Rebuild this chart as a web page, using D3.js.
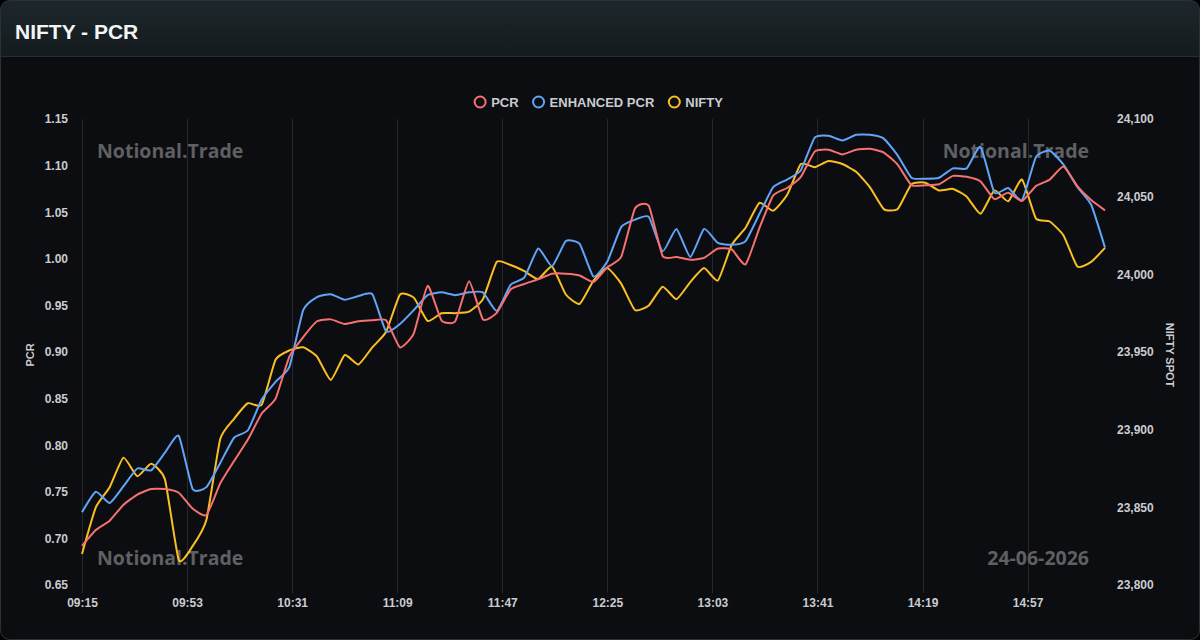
<!DOCTYPE html>
<html><head><meta charset="utf-8">
<script src="https://cdn.jsdelivr.net/npm/d3@7"></script>
<style>
html,body{margin:0;padding:0;background:#000;}
body{width:1200px;height:640px;overflow:hidden;font-family:"Liberation Sans",Arial,sans-serif;}
</style></head>
<body>
<svg id="c" width="1200" height="640"></svg>
<script>
const startTime = "09:15";
const stepMinutes = 5;
const xTickLabels = ["09:15","09:53","10:31","11:09","11:47","12:25","13:03","13:41","14:19","14:57"];
const pcrTicks = [0.65,0.70,0.75,0.80,0.85,0.90,0.95,1.00,1.05,1.10,1.15];
const niftyTicks = [23800,23850,23900,23950,24000,24050,24100];

const pcr = [0.692,0.709,0.719,0.736,0.747,0.753,0.753,0.749,0.732,0.725,
0.759,0.783,0.806,0.834,0.850,0.895,0.916,0.933,0.935,0.930,
0.933,0.934,0.934,0.905,0.920,0.971,0.934,0.933,0.976,0.935,
0.942,0.967,0.973,0.978,0.984,0.984,0.982,0.975,0.991,1.002,
1.054,1.057,1.003,1.002,0.999,1.001,1.011,1.010,0.994,1.033,
1.068,1.076,1.088,1.115,1.117,1.112,1.117,1.118,1.114,1.101,
1.079,1.079,1.080,1.089,1.088,1.083,1.064,1.071,1.062,1.078,
1.085,1.099,1.078,1.063,1.052];

const enhancedPcr = [0.728,0.750,0.738,0.756,0.775,0.773,0.792,0.810,0.753,0.755,
0.781,0.808,0.816,0.849,0.868,0.884,0.945,0.959,0.962,0.956,
0.960,0.962,0.922,0.930,0.945,0.961,0.964,0.961,0.964,0.964,
0.944,0.972,0.980,1.011,0.992,1.019,1.016,0.981,0.997,1.034,
1.042,1.045,1.008,1.032,1.002,1.032,1.017,1.015,1.019,1.048,
1.077,1.085,1.095,1.130,1.132,1.127,1.133,1.133,1.129,1.111,
1.087,1.086,1.087,1.097,1.097,1.120,1.071,1.076,1.063,1.109,
1.116,1.101,1.077,1.058,1.012];

const nifty = [23820,23850,23863,23882,23870,23878,23868,23816,23825,23842,
23894,23907,23917,23916,23945,23951,23953,23947,23932,23948,
23942,23953,23963,23987,23985,23970,23975,23975,23976,23984,
24008,24006,24002,23997,24005,23987,23981,23996,24004,23994,
23977,23980,23992,23984,23995,24004,23996,24019,24030,24046,
24041,24051,24071,24069,24073,24071,24066,24056,24042,24042,
24058,24059,24054,24055,24050,24039,24054,24047,24061,24036,
24034,24025,24005,24008,24017];

const seriesNames = ["PCR","ENHANCED PCR","NIFTY"];
const seriesColors = ["#f87171","#60a5fa","#fbbf24"];

(function(){
function toMin(s){const [h,m]=s.split(":").map(Number);return h*60+m;}
const t0 = toMin(startTime);
const times = pcr.map((_,i)=>t0+i*stepMinutes);
const axFont = "'Liberation Sans', Arial, sans-serif";
const txtCol = "#c9ccd0";

const svg = d3.select("#c");
const defs = svg.append("defs");
const g1 = defs.append("linearGradient").attr("id","hdr").attr("x1",0).attr("y1",0).attr("x2",0).attr("y2",1);
g1.append("stop").attr("offset","0%").attr("stop-color","#1d272b");
g1.append("stop").attr("offset","100%").attr("stop-color","#141b1e");
const clip = defs.append("clipPath").attr("id","card");
clip.append("rect").attr("x",0.5).attr("y",0.5).attr("width",1199).attr("height",639).attr("rx",9);

const card = svg.append("g").attr("clip-path","url(#card)");
card.append("rect").attr("width",1200).attr("height",640).attr("fill","#0c0d10");
card.append("rect").attr("width",1200).attr("height",56).attr("fill","url(#hdr)");
card.append("line").attr("x1",0).attr("x2",1200).attr("y1",56.5).attr("y2",56.5).attr("stroke","#262e31");
svg.append("rect").attr("x",0.5).attr("y",0.5).attr("width",1199).attr("height",639).attr("rx",9)
  .attr("fill","none").attr("stroke","#2b3235");

svg.append("text").attr("x",15).attr("y",39).attr("fill","#f2f4f5")
  .attr("font-family",axFont).attr("font-weight",700).attr("font-size",21)
  .text("NIFTY - PCR");

const pL=82, pR=1105, pT=119, pB=585;
const x = d3.scaleLinear().domain([t0, times[times.length-1]]).range([pL,pR]);
const yL = d3.scaleLinear().domain([0.65,1.15]).range([pB,pT]);
const yR = d3.scaleLinear().domain([23800,24100]).range([pB,pT]);

const tickVals = xTickLabels.map(toMin);
svg.append("g").selectAll("line").data(tickVals).join("line")
  .attr("x1",d=>Math.round(x(d))+0.5).attr("x2",d=>Math.round(x(d))+0.5)
  .attr("y1",pT).attr("y2",pB+8).attr("stroke","#25272b").attr("stroke-width",1);

const wm = svg.append("g").attr("font-family","'Open Sans', sans-serif").attr("font-weight",700)
  .attr("font-size",19.5).attr("fill","#5f6063");
wm.append("text").attr("x",97).attr("y",158).text("Notional.Trade");
wm.append("text").attr("x",1089).attr("y",158).attr("text-anchor","end").text("Notional.Trade");
wm.append("text").attr("x",97).attr("y",565).text("Notional.Trade");
wm.append("text").attr("x",1089).attr("y",565).attr("text-anchor","end").text("24-06-2026");

function styleAxis(a){
  a.select(".domain").remove();
  a.selectAll("text").attr("fill",txtCol).attr("font-size",12).attr("font-weight",700).attr("font-family",axFont);
}
styleAxis(svg.append("g").attr("transform",`translate(${pL},0)`)
  .call(d3.axisLeft(yL).tickValues(pcrTicks).tickFormat(d3.format(".2f")).tickSize(0).tickPadding(14)));
styleAxis(svg.append("g").attr("transform",`translate(${pR},0)`)
  .call(d3.axisRight(yR).tickValues(niftyTicks).tickFormat(d3.format(",")).tickSize(0).tickPadding(12)));
styleAxis(svg.append("g").attr("transform",`translate(0,${pB})`)
  .call(d3.axisBottom(x).tickValues(tickVals).tickFormat((d,i)=>xTickLabels[i]).tickSize(0).tickPadding(13)));

svg.append("text").attr("transform","translate(34,355) rotate(-90)").attr("text-anchor","middle")
  .attr("fill",txtCol).attr("font-size",11).attr("font-weight",700).attr("font-family",axFont).text("PCR");
svg.append("text").attr("transform","translate(1166,355) rotate(90)").attr("text-anchor","middle")
  .attr("fill",txtCol).attr("font-size",11).attr("font-weight",700).attr("font-family",axFont).text("NIFTY SPOT");

const curve = d3.curveCardinal.tension(0.5);
const lineL = d3.line().x((d,i)=>x(times[i])).y(d=>yL(d)).curve(curve);
const lineR = d3.line().x((d,i)=>x(times[i])).y(d=>yR(d)).curve(curve);
const lines = svg.append("g").attr("fill","none").attr("stroke-width",2).attr("stroke-linejoin","round");
lines.append("path").attr("d",lineR(nifty)).attr("stroke",seriesColors[2]);
lines.append("path").attr("d",lineL(enhancedPcr)).attr("stroke",seriesColors[1]);
lines.append("path").attr("d",lineL(pcr)).attr("stroke",seriesColors[0]);

const leg = svg.append("g").attr("font-family",axFont).attr("font-size",13).attr("font-weight",700);
const widths = seriesNames.map(n=>{
  const t = leg.append("text").text(n); const w = t.node().getComputedTextLength(); t.remove(); return w;});
const itemW = widths.map(w=>w+17);
const gap = 14;
const total = d3.sum(itemW)+ (itemW.length-1)*gap;
let cx = 598.5 - total/2;
seriesNames.forEach((n,i)=>{
  const gi = leg.append("g").attr("transform",`translate(${cx},102)`);
  gi.append("circle").attr("cx",6).attr("cy",0).attr("r",5.5).attr("fill","none")
    .attr("stroke",seriesColors[i]).attr("stroke-width",2);
  gi.append("text").attr("x",17).attr("y",4.5).attr("fill",txtCol).text(n);
  cx += itemW[i]+gap;
});
})();
</script>
</body></html>
